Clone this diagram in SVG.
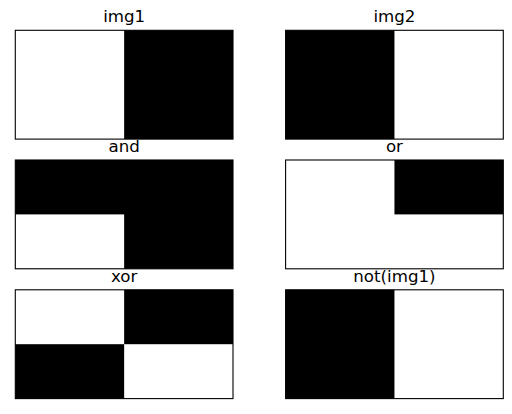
<svg xmlns="http://www.w3.org/2000/svg" width="512" height="414" viewBox="0 0 512 414">
<style>
.t{font-family:"DejaVu Sans",sans-serif;font-size:16.67px;fill:#000;text-anchor:middle}
.w{fill:#fff}
.b{fill:#000}
.f{fill:none;stroke:#000;stroke-width:1.1}
</style>
<rect width="512" height="414" fill="#fff"/>
<g id="img1">
<rect class="w" x="15.3" y="30.3" width="217.7" height="108.8"/>
<rect class="b" x="124.15" y="30.3" width="108.85" height="108.8"/>
<rect class="f" x="15.3" y="30.3" width="217.7" height="108.8"/>
<text class="t" x="124.15" y="22.3">img1</text>
</g>
<g id="img2">
<rect class="w" x="285.6" y="30.3" width="217.7" height="108.8"/>
<rect class="b" x="285.6" y="30.3" width="108.85" height="108.8"/>
<rect class="f" x="285.6" y="30.3" width="217.7" height="108.8"/>
<text class="t" x="394.45" y="22.3">img2</text>
</g>
<g id="and">
<rect class="b" x="15.3" y="160" width="217.7" height="108.8"/>
<rect class="w" x="15.3" y="214.4" width="108.85" height="54.4"/>
<rect class="f" x="15.3" y="160" width="217.7" height="108.8"/>
<text class="t" x="124.15" y="152">and</text>
</g>
<g id="or">
<rect class="w" x="285.6" y="160" width="217.7" height="108.8"/>
<rect class="b" x="394.45" y="160" width="108.85" height="54.4"/>
<rect class="f" x="285.6" y="160" width="217.7" height="108.8"/>
<text class="t" x="394.45" y="152">or</text>
</g>
<g id="xor">
<rect class="w" x="15.3" y="289.8" width="217.7" height="108.8"/>
<rect class="b" x="124.15" y="289.8" width="108.85" height="54.4"/>
<rect class="b" x="15.3" y="344.2" width="108.85" height="54.4"/>
<rect class="f" x="15.3" y="289.8" width="217.7" height="108.8"/>
<text class="t" x="124.15" y="281.7">xor</text>
</g>
<g id="not_img1">
<rect class="w" x="285.6" y="289.8" width="217.7" height="108.8"/>
<rect class="b" x="285.6" y="289.8" width="108.85" height="108.8"/>
<rect class="f" x="285.6" y="289.8" width="217.7" height="108.8"/>
<text class="t" x="394.45" y="281.7">not(img1)</text>
</g>
<g id="connectors"/>
</svg>
